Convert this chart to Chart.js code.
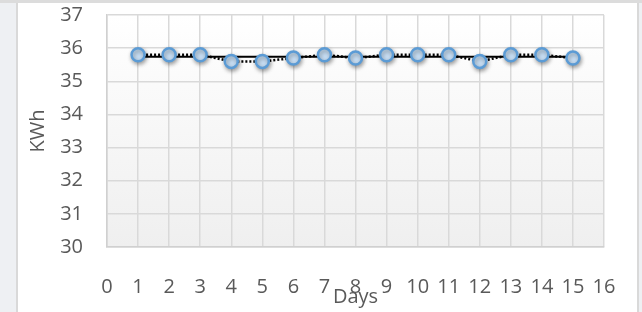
<!DOCTYPE html>
<html lang="en">
<head>
    <meta charset="UTF-8">
    <title>KWh per day</title>
    <script src="https://cdn.jsdelivr.net/npm/chart.js@4/dist/chart.umd.min.js"></script>
    <style>
        html, body { margin: 0; padding: 0; }
        body { width: 642px; height: 312px; background: #eef0f3; position: relative; overflow: hidden; }
        #frame { position: absolute; left: 16px; top: 3px; width: 619px; height: 312px;
                 background: #fff; border-left: 2px solid #d9d9d9; border-right: 2px solid #d9d9d9; }
        #topbar { position: absolute; left: 0; top: 0; width: 642px; height: 3px; background: #dcdcdc; }
        #chart { position: absolute; left: 0; top: 0; }
    </style>
</head>
<body>
<div id="topbar"></div>
<div id="frame"></div>
<canvas id="chart" width="642" height="312"></canvas>

<script>
    const days = [1, 2, 3, 4, 5, 6, 7, 8, 9, 10, 11, 12, 13, 14, 15];
    const kwh = [35.8, 35.8, 35.8, 35.6, 35.6, 35.7, 35.8, 35.7, 35.8, 35.8, 35.8, 35.6, 35.8, 35.8, 35.7];
    // linear trend line, end points
    const trendDays = [1, 15];
    const trendKwh = [35.74, 35.74];

    const font = {family: '"Open Sans", sans-serif', size: 20};
    const textColor = '#595959';
    const points = (xs, ys) => xs.map((x, i) => ({x, y: ys[i]}));

    const plotBackground = {
        id: 'plotBackground',
        beforeDraw(chart) {
            const {ctx, chartArea: {left, top, right, bottom}} = chart;
            const g = ctx.createLinearGradient(0, top, 0, bottom);
            g.addColorStop(0, '#ffffff');
            g.addColorStop(1, '#efefef');
            ctx.save();
            ctx.fillStyle = g;
            ctx.fillRect(left, top, right - left, bottom - top);
            ctx.restore();
        }
    };

    const markerShadow = {
        id: 'markerShadow',
        beforeDatasetDraw(chart, args) {
            if (args.index !== 2) return;
            const ctx = chart.ctx;
            ctx.save();
            ctx.shadowColor = 'rgba(0,0,0,0.35)';
            ctx.shadowBlur = 4;
            ctx.shadowOffsetX = 1;
            ctx.shadowOffsetY = 2;
        },
        afterDatasetDraw(chart, args) {
            if (args.index === 2) chart.ctx.restore();
        }
    };

    new Chart(document.getElementById('chart'), {
        type: 'scatter',
        data: {
            datasets: [{
                data: points(days, kwh),
                showLine: true,
                borderColor: '#000',
                borderWidth: 2.5,
                borderDash: [2, 2],
                pointRadius: 0,
                order: 3
            }, {
                data: points(trendDays, trendKwh),
                showLine: true,
                borderColor: '#000',
                borderWidth: 2,
                pointRadius: 0,
                order: 2
            }, {
                data: points(days, kwh),
                showLine: false,
                pointRadius: 6.5,
                pointBorderWidth: 2.5,
                pointBorderColor: '#5b9bd5',
                pointBackgroundColor: '#c6ddf3',
                order: 1
            }]
        },
        options: {
            responsive: false,
            animation: false,
            layout: {padding: {left: 18, right: 38, top: 15, bottom: 0}},
            plugins: {legend: {display: false}, tooltip: {enabled: false}},
            scales: {
                x: {
                    type: 'linear',
                    min: 0,
                    max: 16,
                    afterFit: s => { s.height = 65; s.paddingLeft = 0; s.paddingRight = 0; },
                    ticks: {stepSize: 1, color: textColor, font, padding: 28, maxRotation: 0, autoSkip: false},
                    grid: {color: '#d9d9d9', lineWidth: 1.5, drawTicks: false},
                    border: {color: '#d0d0d0', width: 1.5},
                    title: {display: true, text: 'Days', color: textColor, font, padding: {top: 0, bottom: 3}}
                },
                y: {
                    min: 30,
                    max: 37,
                    afterFit: s => { s.width = 89; s.paddingTop = 0; s.paddingBottom = 0; },
                    ticks: {stepSize: 1, color: textColor, font, padding: 24},
                    grid: {color: '#d9d9d9', lineWidth: 1.5, drawTicks: false},
                    border: {color: '#d0d0d0', width: 1.5},
                    title: {display: true, text: 'KWh', color: textColor, font, padding: {top: 8, bottom: 0}}
                }
            }
        },
        plugins: [plotBackground, markerShadow]
    });
</script>
</body>
</html>
